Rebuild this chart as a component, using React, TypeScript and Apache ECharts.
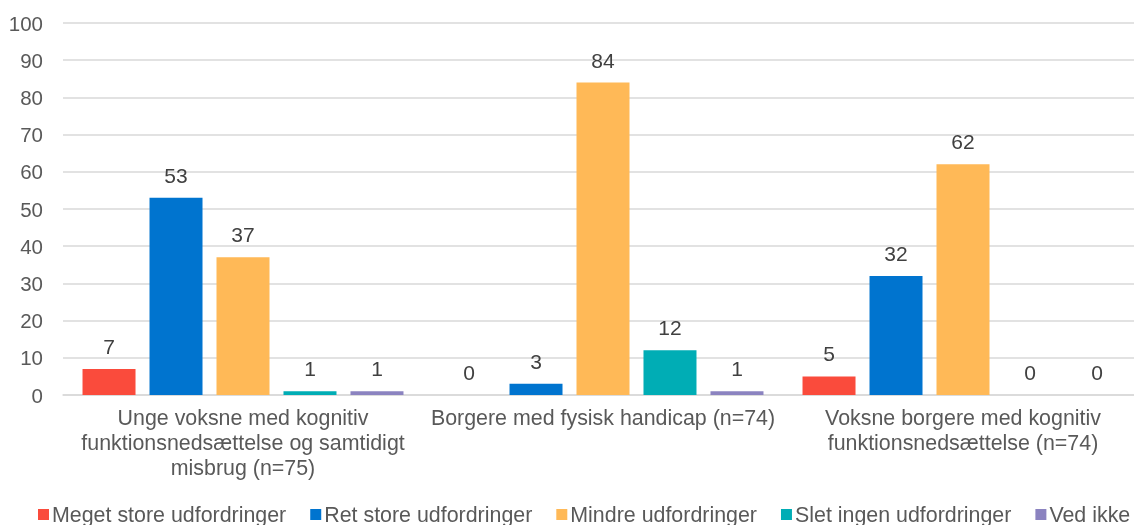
import React, { useEffect, useRef } from "react";
import * as echarts from "echarts";

const categories = [
  "Unge voksne med kognitiv\nfunktionsnedsættelse og samtidigt\nmisbrug (n=75)",
  "Borgere med fysisk handicap (n=74)",
  "Voksne borgere med kognitiv\nfunktionsnedsættelse (n=74)",
];
const seriesNames = [
  "Meget store udfordringer",
  "Ret store udfordringer",
  "Mindre udfordringer",
  "Slet ingen udfordringer",
  "Ved ikke",
];
const megetStore = [7, 0, 5];
const retStore = [53, 3, 32];
const mindre = [37, 84, 62];
const sletIngen = [1, 12, 0];
const vedIkke = [1, 1, 0];
const seriesValues = [megetStore, retStore, mindre, sletIngen, vedIkke];
const colors = ["#FA4B3C", "#0074CF", "#FFB957", "#00ADB5", "#8B83C0"];
const yTicks = { min: 0, max: 100, interval: 10 };

const FONT = "'Liberation Sans', Arial, sans-serif";

export default function App() {
  const ref = useRef<HTMLDivElement>(null);
  useEffect(() => {
    if (!ref.current) return;
    const chart = echarts.init(ref.current, null, { renderer: "svg" });
    chart.setOption({
      animation: false,
      textStyle: { fontFamily: FONT },
      grid: {
        left: 63,
        width: 1080,
        top: 23,
        bottom: 130,
        containLabel: false,
        outerBoundsMode: "none",
      },
      legend: {
        left: 38,
        top: 504,
        padding: 0,
        icon: "rect",
        itemWidth: 11,
        itemHeight: 11,
        itemGap: 24,
        textStyle: { fontFamily: FONT, fontSize: 21.4, color: "#595959", padding: [0, 0, 0, -2] },
        data: seriesNames,
      },
      xAxis: {
        type: "category",
        data: categories,
        axisTick: { show: false },
        axisLine: { lineStyle: { color: "#D9D9D9", width: 1.5 } },
        axisLabel: {
          interval: 0,
          margin: 10,
          color: "#595959",
          fontFamily: FONT,
          fontSize: 21.4,
          lineHeight: 25,
          align: "center",
        },
      },
      yAxis: {
        type: "value",
        min: yTicks.min,
        max: yTicks.max,
        interval: yTicks.interval,
        axisLine: { show: false },
        axisTick: { show: false },
        splitLine: { lineStyle: { color: "#D9D9D9", width: 1.5 } },
        axisLabel: { margin: 20, color: "#595959", fontFamily: FONT, fontSize: 20.5 },
      },
      series: seriesNames.map((name, i) => ({
        name,
        type: "bar",
        data: seriesValues[i],
        barWidth: 53,
        barGap: "26.4%",
        itemStyle: { color: colors[i] },
        label: {
          show: true,
          position: "top",
          distance: 12,
          color: "#404040",
          fontFamily: FONT,
          fontSize: 21,
        },
      })),
    });
    return () => chart.dispose();
  }, []);
  return (
    <div
      ref={ref}
      style={{ position: "fixed", left: 0, top: 0, width: 1134, height: 525 }}
    />
  );
}
